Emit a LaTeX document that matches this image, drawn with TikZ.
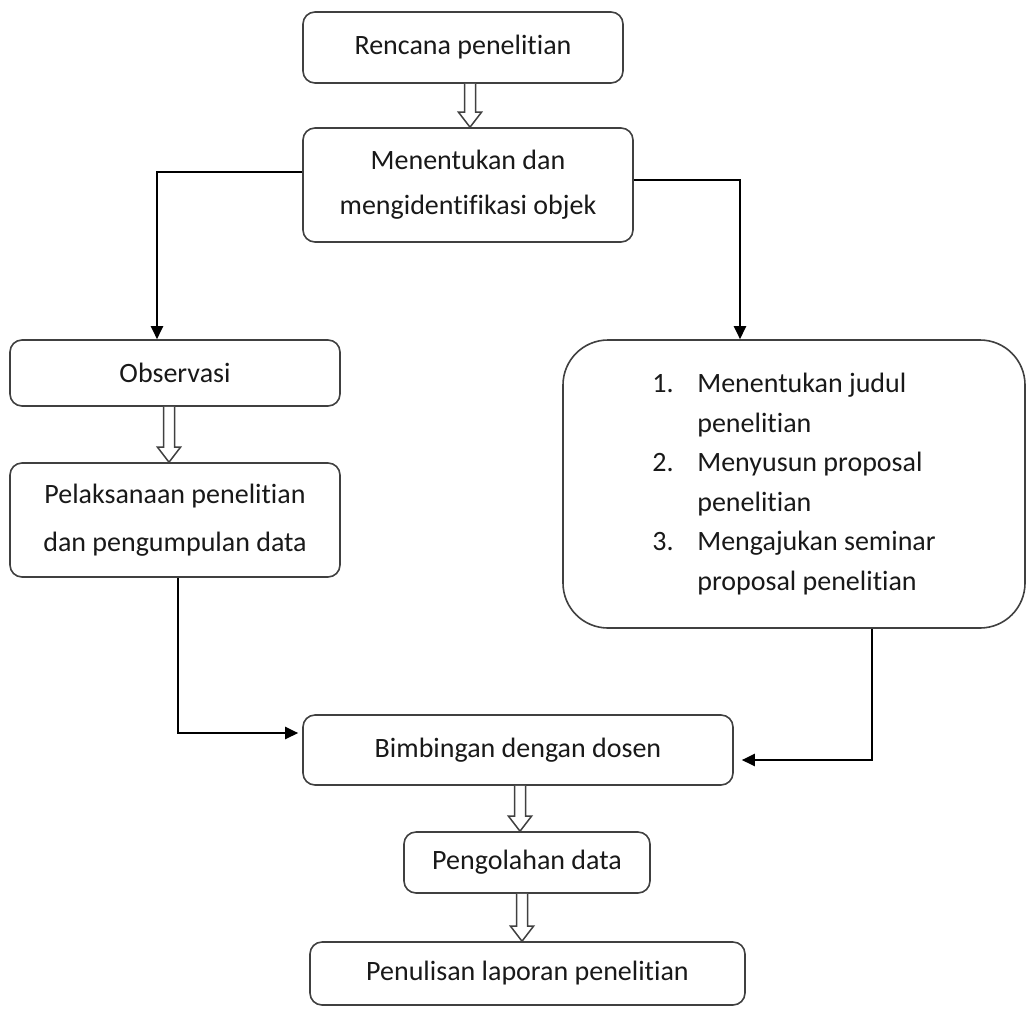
\documentclass[tikz,border=0pt]{standalone}
\usepackage{fontspec}
\setmainfont[Ligatures=NoCommon]{Carlito}
\usetikzlibrary{arrows.meta,calc}
\tikzset{
  box/.style={draw=black!75, line width=1.6pt, rounded corners=12pt, align=center, text=black!90,
    font=\fontsize{28}{45}\selectfont, inner sep=0pt},
  arr/.style={draw=black, line width=2.2pt, -{Triangle[length=13pt,width=12pt]}},
  harr/.style={draw=black!75, line width=1.5pt, fill=white, line join=miter}
}
\newcommand\hollowarr[2]{\draw[harr] let \p1=#1, \p2=#2 in
  (\x1-5.5pt,\y1) -- (\x1-5.5pt,\y2+15pt) -- (\x1-11.5pt,\y2+15pt) -- (\x1,\y2)
  -- (\x1+11.5pt,\y2+15pt) -- (\x1+5.5pt,\y2+15pt) -- (\x1+5.5pt,\y1);}
\begin{document}
\begin{tikzpicture}[x=1pt,y=1pt]
\useasboundingbox[fill=white] (0,0) rectangle (1027,-1010);
\node[box, minimum width=320pt, minimum height=71pt] (r) at (463,-47.5) {Rencana penelitian};
\node[box, minimum width=330pt, minimum height=114pt] (m) at (468,-185) {Menentukan dan\\mengidentifikasi objek};
\node[box, minimum width=330pt, minimum height=66pt] (obs) at (175,-373) {Observasi};
\node[box, minimum width=330pt, minimum height=114pt, font=\fontsize{28}{48}\selectfont] (pel) at (175,-520) {Pelaksanaan penelitian\\dan pengumpulan data};
\node[box, minimum width=462pt, minimum height=288pt, rounded corners=45pt, align=left, font=\fontsize{28}{39.5}\selectfont] (rb) at (794,-484)
  {\makebox[45pt][l]{1.}Menentukan judul\\\hspace*{45pt}penelitian\\
   \makebox[45pt][l]{2.}Menyusun proposal\\\hspace*{45pt}penelitian\\
   \makebox[45pt][l]{3.}Mengajukan seminar\\\hspace*{45pt}proposal penelitian};
\node[box, minimum width=430pt, minimum height=70pt] (bim) at (518,-750) {Bimbingan dengan dosen};
\node[box, minimum width=246pt, minimum height=61pt] (peng) at (527,-862.5) {Pengolahan data};
\node[box, minimum width=435pt, minimum height=63pt] (pen) at (527.5,-973.5) {Penulisan laporan penelitian};

\hollowarr{([xshift=7pt]r.south)}{(m.north)}
\hollowarr{([xshift=-6pt]obs.south)}{(pel.north)}
\hollowarr{([xshift=2pt]bim.south)}{(peng.north)}
\hollowarr{([xshift=-5pt]peng.south)}{(pen.north)}

\draw[arr] ([yshift=13pt]m.west) -| ([xshift=-18pt]obs.north);
\draw[arr] ([yshift=5pt]m.east) -| ([xshift=-54pt]rb.north);
\draw[arr, shorten >=4pt] ([xshift=3pt]pel.south) |- ([yshift=17pt]bim.west);
\draw[arr, shorten >=8pt] ([xshift=78pt]rb.south) |- ([yshift=-10pt]bim.east);
\end{tikzpicture}
\end{document}
